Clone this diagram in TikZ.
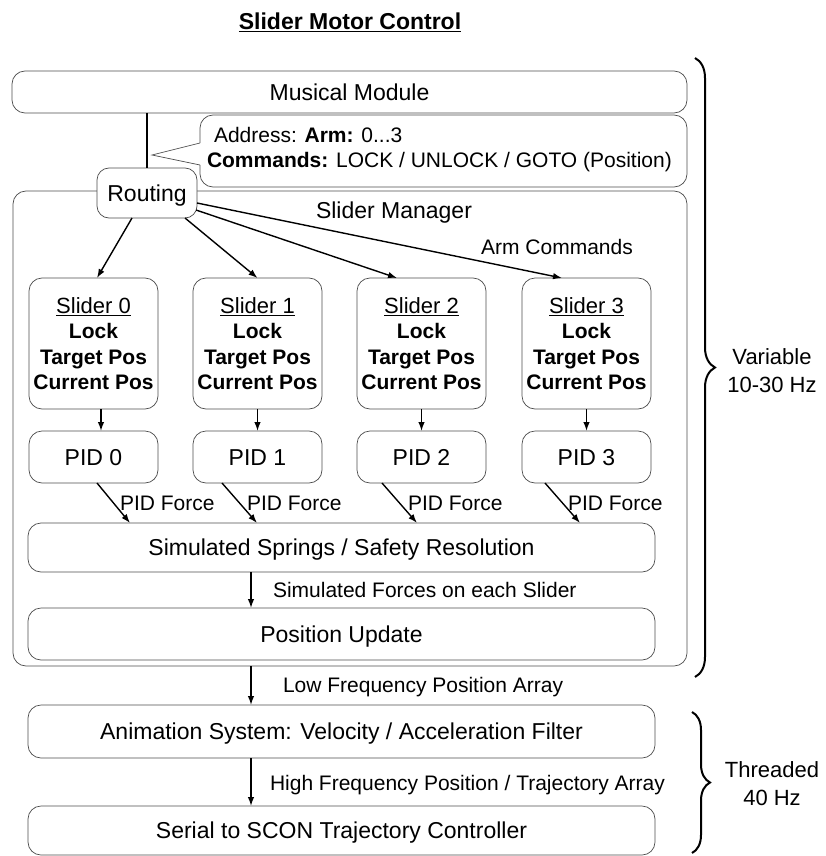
\documentclass[tikz,border=0pt]{standalone}
\usepackage{fontspec}
\setmainfont{Liberation Sans}
\usetikzlibrary{arrows.meta,calc,decorations.pathreplacing}
\begin{document}
\begin{tikzpicture}[x=1pt,y=-1pt,
  box/.style={draw=black!70, line width=0.7pt, rounded corners=13pt, inner sep=0pt, outer sep=0pt,
    align=center, font=\fontsize{23}{27}\selectfont, text height=16.5pt, text depth=0pt},
  mbox/.style={draw=black!70, line width=0.7pt, rounded corners=13pt, inner sep=0pt, outer sep=0pt,
    align=center, font=\fontsize{21}{25.5}\selectfont},
  lbl/.style={inner sep=0pt, outer sep=0pt, font=\fontsize{21}{25}\selectfont, text height=15pt, text depth=0pt},
  blbl/.style={inner sep=0pt, outer sep=0pt, align=center, font=\fontsize{22}{28}\selectfont},
  arr/.style={line width=1.4pt, -{Latex[length=9pt,width=6.5pt]}},
  ln/.style={line width=1.4pt},
  brc/.style={line width=2pt, decorate},
]
\useasboundingbox (0,0) rectangle (825,856);

% title
\node[inner sep=0pt, anchor=base, font=\fontsize{23}{27}\selectfont\bfseries] (title) at (350,30) {\underline{Slider Motor Control}};

% top boxes
\node[box, minimum width=675pt, minimum height=42pt] (mm) at (349.5,92) {Musical Module};
\node[box, minimum width=487pt, minimum height=72pt] (co) at (443.5,151) {};
\coordinate (tip) at (152,155);
\fill[white] (tip) -- ($(co.west)+(0,-8)$) -- ($(co.west)+(0,14)$) -- cycle;
\fill[white] ($(co.west)+(-0.6,-8)$) rectangle ($(co.west)+(1.2,14)$);
\draw[draw=black!70, line width=0.7pt] ($(co.west)+(0,-8)$) -- (tip) -- ($(co.west)+(0,14)$);
\node[inner sep=0pt, outer sep=0pt, anchor=west, align=left, font=\fontsize{21}{25}\selectfont] (ct) at (207,149.5)
  {\hspace*{7pt}Address: \textbf{Arm:} 0...3\\\textbf{Commands:} LOCK / UNLOCK / GOTO (Position)};

% manager
\node[box, minimum width=674pt, minimum height=475pt] (mgr) at (350,428.5) {};
\node[inner sep=0pt, font=\fontsize{23}{27}\selectfont, text height=16.5pt, text depth=0pt] (mgrl) at (394,210) {Slider Manager};
\node[box, fill=white, rounded corners=12pt, minimum width=100pt, minimum height=50pt] (rt) at (147,193) {Routing};
\draw[ln] (mm.south -| rt.north) -- (rt.north);

% sliders
\foreach \i/\x in {0/93.5,1/257.5,2/421.5,3/586.5}{
  \node[mbox, minimum width=129pt, minimum height=131pt] (s\i) at (\x,343.5)
    {{\fontsize{22}{25.5}\selectfont\underline{Slider \i}}\\\textbf{Lock}\\\textbf{Target Pos}\\\textbf{Current Pos}};
  \node[box, minimum width=129pt, minimum height=52pt] (p\i) at (\x,457) {PID \i};
}

\draw[arr] ($(rt.south west)+(35,0)$) -- ($(s0.north west)+(68,0)$);
\draw[arr] ($(rt.south west)+(88,0)$) -- (s1.north);
\draw[arr] ($(rt.north east)+(-1,42)$) -- ($(s2.north west)+(40,0)$);
\draw[arr] ($(rt.north east)+(0,35)$) -- ($(s3.north west)+(40,0)$);
\node[lbl] (arml) at (557,247) {Arm Commands};

\draw[arr] ($(s0.south)+(7.5,0)$) -- ($(p0.north)+(7.5,0)$);
\draw[arr] (s1.south) -- (p1.north);
\draw[arr] (s2.south) -- (p2.north);
\draw[arr] (s3.south) -- (p3.north);

% springs etc
\node[box, minimum width=627pt, minimum height=49pt] (sp) at (341.5,547.5) {Simulated Springs / Safety Resolution};
\node[box, minimum width=627pt, minimum height=52pt] (pu) at (341.5,634) {Position Update};
\node[box, minimum width=627pt, minimum height=53pt] (an) at (341.5,731.5) {Animation System: Velocity / Acceleration Filter};
\node[box, minimum width=627pt, minimum height=49pt] (se) at (341.5,830.5) {Serial to SCON Trajectory Controller};

\draw[arr] ($(p0.south west)+(68,0)$) -- ($(sp.north west)+(102,0)$);
\draw[arr] ($(p1.south west)+(29,0)$) -- ($(sp.north west)+(229,0)$);
\draw[arr] ($(p2.south west)+(25,0)$) -- ($(sp.north west)+(389,0)$);
\draw[arr] ($(p3.south west)+(23,0)$) -- ($(sp.north west)+(552,0)$);
\node[lbl, anchor=west] (pf0) at (120,503) {PID Force};
\node[lbl, anchor=west] (pf1) at (247,503) {PID Force};
\node[lbl, anchor=west] (pf2) at (408,503) {PID Force};
\node[lbl, anchor=west] (pf3) at (568,503) {PID Force};

\draw[arr] ($(sp.south west)+(223,0)$) -- ($(pu.north west)+(223,0)$);
\node[lbl, anchor=west] (sfl) at (273,590) {Simulated Forces on each Slider};
\draw[arr] ($(mgr.south west)+(238,0)$) -- ($(an.north west)+(223,0)$);
\node[lbl, anchor=west] (lfl) at (283,685) {Low Frequency Position Array};
\draw[arr] ($(an.south west)+(223,0)$) -- ($(se.north west)+(223,0)$);
\node[lbl, anchor=west] (hfl) at (270,783) {High Frequency Position / Trajectory Array};

% braces
\coordinate (b1a) at (695,58);
\coordinate (b1b) at (695,677);
\draw[brc, decoration={brace, amplitude=20pt}] (b1a) -- (b1b);
\node[blbl] (vl) at (772,371) {Variable\\10-30 Hz};
\coordinate (b2a) at (692,712);
\coordinate (b2b) at (692,853);
\draw[brc, decoration={brace, amplitude=18pt}] (b2a) -- (b2b);
\node[blbl] (tl) at (772,784) {Threaded\\40 Hz};
\end{tikzpicture}
\end{document}
